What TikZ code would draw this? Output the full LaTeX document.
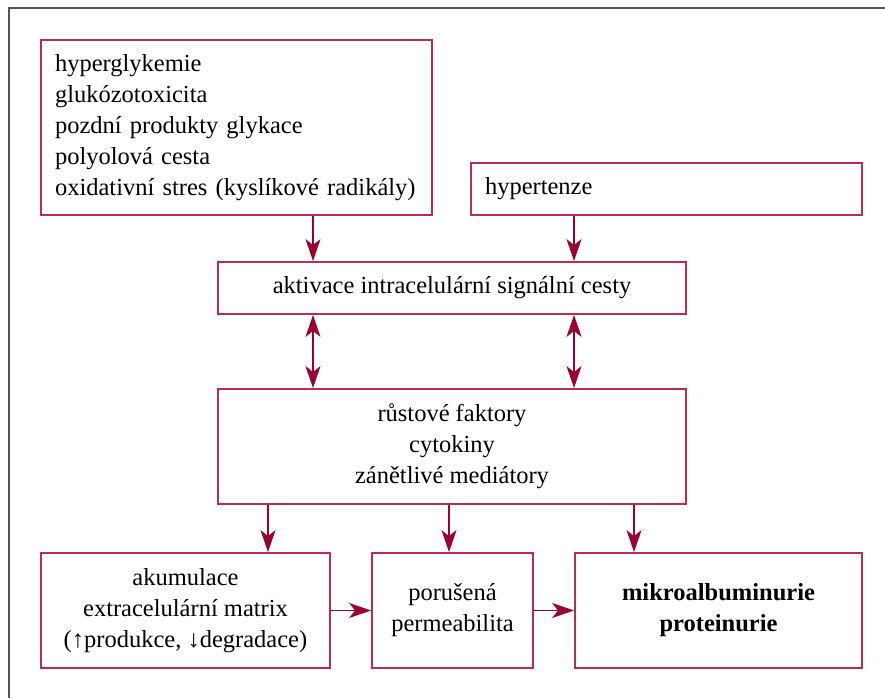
\documentclass[tikz,border=0pt]{standalone}
\usepackage{fontspec}
\setmainfont{Liberation Serif}
\usetikzlibrary{arrows.meta}
\definecolor{boxred}{RGB}{185,45,85}
\definecolor{arrred}{RGB}{155,0,50}
\definecolor{framegray}{RGB}{85,85,85}

\begin{document}
\begin{tikzpicture}[x=1pt,y=-1pt,
	box/.style={draw=boxred,line width=1.8pt,inner sep=0pt,font=\fontsize{24.5}{31}\selectfont},
	tip/.tip={Stealth[length=22pt,width=15pt,inset=6pt]},
	arr/.style={arrred,line width=1.4pt,-tip},
	darr/.style={arrred,line width=1.4pt,tip-tip}]
			\useasboundingbox (0,0) rectangle (885,698);
			%ramecek
			\draw[framegray,line width=1.6pt] (9,698) -- (9,8) -- (885,8);
			
			%horni rada
			\node[box,minimum width=391,minimum height=175,text width=363,align=left] (pricina) at (236.5,127.5)
				{hyperglykemie\\glukózotoxicita\\pozdní produkty glykace\\polyolová cesta\\oxidativní stres (kyslíkové radikály)};
			\node[box,minimum width=391,minimum height=52,text width=363,align=left] (hypert) at (666.5,189) {hypertenze};
			
			%stred
			\node[box,minimum width=468,minimum height=52] (aktiv) at (452,288) {aktivace intracelulární signální cesty};
			\node[box,minimum width=468,minimum height=115,align=center] (faktory) at (452,446.5)
				{růstové faktory\\cytokiny\\zánětlivé mediátory};
			
			%dolni rada
			\node[box,minimum width=289,minimum height=115,align=center] (matrix) at (185.5,610.5)
				{akumulace\\extracelulární matrix\\(↑produkce, ↓degradace)};
			\node[box,minimum width=161,minimum height=115,align=center] (perm) at (452.5,610.5)
				{porušená\\permeabilita};
			\node[box,minimum width=287,minimum height=115,align=center,font=\fontsize{24.5}{31}\selectfont\bfseries] (album) at (718.5,610.5)
				{mikroalbuminurie\\proteinurie};
			
			%sipky
			\coordinate (xl) at (313,0);
			\coordinate (xr) at (574,0);
			\coordinate (xa) at (268,0);
			\coordinate (xb) at (449,0);
			\coordinate (xc) at (634,0);
			\draw[arr] (pricina.south -| xl) -- (aktiv.north -| xl);
			\draw[arr] (hypert.south -| xr) -- (aktiv.north -| xr);
			\draw[darr] (aktiv.south -| xl) -- (faktory.north -| xl);
			\draw[darr] (aktiv.south -| xr) -- (faktory.north -| xr);
			\draw[arr] (faktory.south -| xa) -- (matrix.north -| xa);
			\draw[arr] (faktory.south -| xb) -- (perm.north -| xb);
			\draw[arr] (faktory.south -| xc) -- (album.north -| xc);
			\draw[arr] (matrix.east) -- (perm.west);
			\draw[arr] (perm.east) -- (album.west);
\end{tikzpicture}
\end{document}
